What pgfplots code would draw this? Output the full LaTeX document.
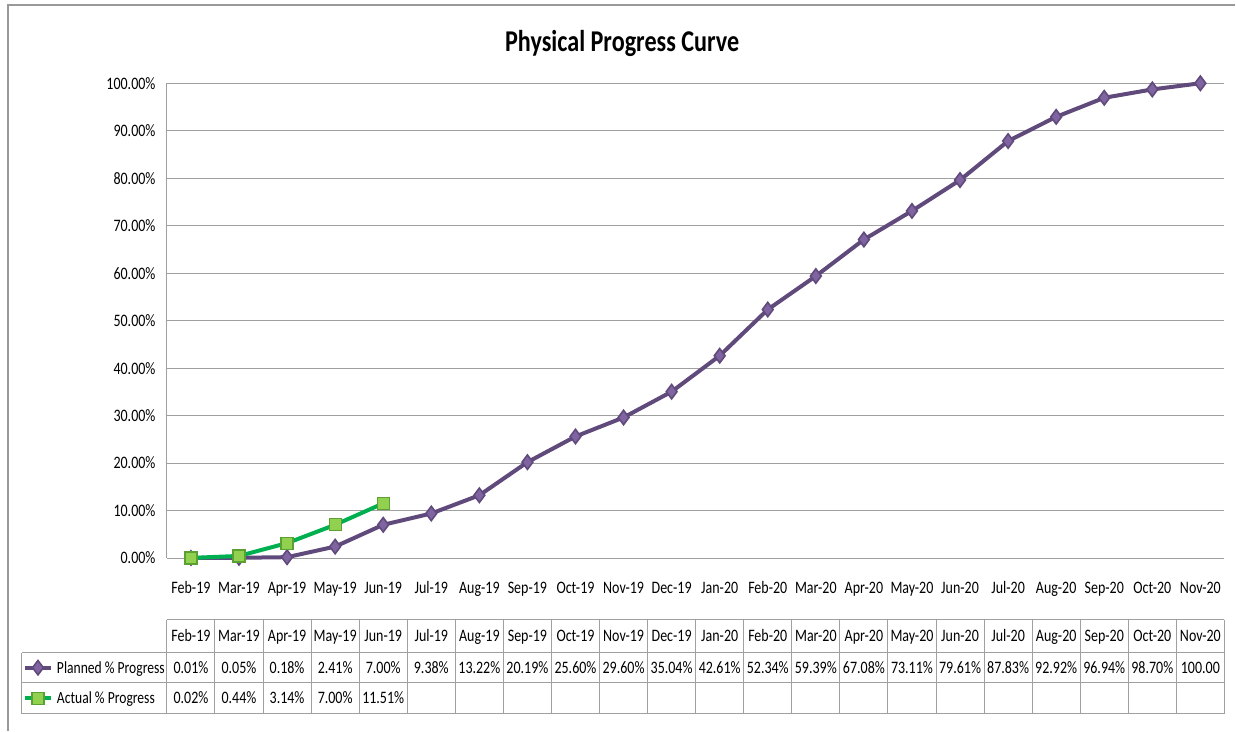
\documentclass[border=0pt]{standalone}
\usepackage{fontspec}
\setmainfont{Carlito}[FakeStretch=0.8]
\usepackage{pgfplots}
\pgfplotsset{compat=1.18}
\definecolor{pline}{RGB}{96,74,123}
\definecolor{pfill}{RGB}{128,100,162}
\definecolor{gline}{RGB}{0,176,80}
\definecolor{gfill}{RGB}{146,208,80}
\definecolor{gdraw}{RGB}{90,160,50}
\definecolor{gridc}{RGB}{160,160,160}
\newcommand{\tf}{\fontsize{8.75}{10}\selectfont}
\begin{document}
\begin{tikzpicture}
\begin{axis}[
 scale only axis, width=529pt, height=237.5pt,
 xmin=-0.5, xmax=21.5, ymin=0, ymax=100,
 axis line style={draw=none},
 ymajorgrids, grid style={gridc, line width=0.5pt},
 major tick length=0pt,
 xtick={0,...,21},
 xticklabels={Feb-19,Mar-19,Apr-19,May-19,Jun-19,Jul-19,Aug-19,Sep-19,Oct-19,Nov-19,Dec-19,Jan-20,Feb-20,Mar-20,Apr-20,May-20,Jun-20,Jul-20,Aug-20,Sep-20,Oct-20,Nov-20},
 ytick={0,10,...,100},
 yticklabels={0.00\%,10.00\%,20.00\%,30.00\%,40.00\%,50.00\%,60.00\%,70.00\%,80.00\%,90.00\%,100.00\%},
 ticklabel style={font=\tf},
 xticklabel style={anchor=base, yshift=-17.5pt},
 yticklabel style={anchor=east, xshift=-2.2pt},
 clip=false,
 legend style={at={(-0.1361,-0.2094)}, anchor=north west, draw=none, fill=none,
   inner sep=0pt, outer sep=0pt, row sep=5pt, column sep=2pt,
   font=\fontsize{8.5}{10}\selectfont,
   nodes={inner sep=0pt, text height=7.875pt, text depth=2.375pt}},
 legend cell align=left,
 legend image code/.code={\draw[mark repeat=2,mark phase=2,#1] plot coordinates {(0pt,0pt)(6.5pt,0pt)(13pt,0pt)};},
]
\addplot[pline, line width=2pt, mark=diamond*, mark size=3.6pt,
  mark options={fill=pfill, draw=pline, line width=0.8pt}] coordinates {
 (0,0.01) (1,0.05) (2,0.18) (3,2.41) (4,7.00) (5,9.38) (6,13.22) (7,20.19)
 (8,25.60) (9,29.60) (10,35.04) (11,42.61) (12,52.34) (13,59.39) (14,67.08)
 (15,73.11) (16,79.61) (17,87.83) (18,92.92) (19,96.94) (20,98.70) (21,100.00)};
\addlegendentry{Planned \% Progress}
\addplot[gline, line width=2pt, mark=square*, mark size=3pt,
  mark options={fill=gfill, draw=gdraw, line width=0.6pt}] coordinates {
 (0,0.02) (1,0.44) (2,3.14) (3,7.00) (4,11.51)};
\addlegendentry{Actual \% Progress}
\end{axis}
\begin{scope}[shift={(-83.5pt,279.15pt)},x=0.5pt,y=-0.5pt]
\path (0,0) rectangle (1236,731);
\draw[gray!80, line width=0.6pt] (8,731) -- (8,5) -- (1236,5);
\draw[gridc, line width=0.5pt] (167,83.3) -- (167,558.3);
\node[anchor=base, font=\fontsize{15.1}{18}\selectfont\bfseries] at (622.5,52) {Physical Progress Curve};
% table grid
\draw[gridc, line width=0.5pt] (167,620) -- (1225,620);
\foreach \y in {653,683,714} \draw[gridc, line width=0.5pt] (22,\y) -- (1225,\y);
\draw[gridc, line width=0.5pt] (22,653) -- (22,714);
\foreach \i in {0,...,22} \draw[gridc, line width=0.5pt] ({167+\i*48.0909},620) -- ({167+\i*48.0909},714);
\foreach \m [count=\i from 0] in {Feb-19,Mar-19,Apr-19,May-19,Jun-19,Jul-19,Aug-19,Sep-19,Oct-19,Nov-19,Dec-19,Jan-20,Feb-20,Mar-20,Apr-20,May-20,Jun-20,Jul-20,Aug-20,Sep-20,Oct-20,Nov-20}
  \node[anchor=base, font=\tf, inner sep=0pt] at ({191.05+\i*48.0909},642) {\m};
\foreach \m [count=\i from 0] in {0.01\%,0.05\%,0.18\%,2.41\%,7.00\%,9.38\%,13.22\%,20.19\%,25.60\%,29.60\%,35.04\%,42.61\%,52.34\%,59.39\%,67.08\%,73.11\%,79.61\%,87.83\%,92.92\%,96.94\%,98.70\%,100.00}
  \node[anchor=base, font=\tf, inner sep=0pt] at ({191.05+\i*48.0909},673.5) {\m};
\foreach \m [count=\i from 0] in {0.02\%,0.44\%,3.14\%,7.00\%,11.51\%}
  \node[anchor=base, font=\tf, inner sep=0pt] at ({191.05+\i*48.0909},704) {\m};
\end{scope}
\end{tikzpicture}
\end{document}
